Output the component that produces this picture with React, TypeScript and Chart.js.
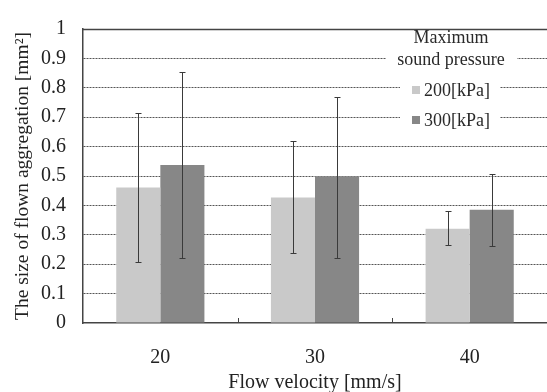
import React, { useEffect, useRef } from "react";
import { Chart, registerables } from "chart.js";

Chart.register(...registerables);

const categories = ["20", "30", "40"];
const seriesLabels = ["200[kPa]", "300[kPa]"];
const values200 = [0.461, 0.427, 0.321];
const upper200 = [0.715, 0.618, 0.382];
const lower200 = [0.206, 0.239, 0.265];
const values300 = [0.537, 0.499, 0.385];
const upper300 = [0.855, 0.77, 0.508];
const lower300 = [0.222, 0.222, 0.261];
const seriesColors = ["#c9c9c9", "#878787"];
const yTickLabels = ["0", "0.1", "0.2", "0.3", "0.4", "0.5", "0.6", "0.7", "0.8", "0.9", "1"];
const legendTitle = ["Maximum", "sound pressure"];
const xTitle = "Flow velocity [mm/s]";
const yTitle = "The size of flown aggregation [mm²]";

const FONT = "'Liberation Serif', 'Times New Roman', serif";

const errorBarPlugin = {
  id: "errorBars",
  afterDatasetsDraw(chart: any) {
    const ctx = chart.ctx;
    const yScale = chart.scales.y;
    chart.data.datasets.forEach((ds: any, i: number) => {
      const meta = chart.getDatasetMeta(i);
      meta.data.forEach((bar: any, j: number) => {
        const x = Math.round(bar.x) + 0.5;
        const yHi = Math.round(yScale.getPixelForValue(ds.errUpper[j])) + 0.5;
        const yLo = Math.round(yScale.getPixelForValue(ds.errLower[j])) + 0.5;
        ctx.save();
        ctx.strokeStyle = "#3a3a3a";
        ctx.lineWidth = 1;
        ctx.beginPath();
        ctx.moveTo(x, yHi);
        ctx.lineTo(x, yLo);
        ctx.moveTo(x - 3, yHi);
        ctx.lineTo(x + 3, yHi);
        ctx.moveTo(x - 3, yLo);
        ctx.lineTo(x + 3, yLo);
        ctx.stroke();
        ctx.restore();
      });
    });
  },
};

const framePlugin = {
  id: "frameAndLegend",
  afterDraw(chart: any) {
    const ctx = chart.ctx;
    const area = chart.chartArea;
    const xScale = chart.scales.x;
    ctx.save();
    ctx.strokeStyle = "#444";
    ctx.lineWidth = 1.5;
    ctx.beginPath();
    ctx.moveTo(area.left, area.top + 0.5);
    ctx.lineTo(area.right, area.top + 0.5);
    ctx.stroke();
    ctx.lineWidth = 1;
    const n = chart.data.labels.length;
    for (let k = 1; k < n; k++) {
      const xb = Math.round((xScale.getPixelForTick(k - 1) + xScale.getPixelForTick(k)) / 2) + 0.5;
      ctx.beginPath();
      ctx.moveTo(xb, area.bottom);
      ctx.lineTo(xb, area.bottom - 5);
      ctx.stroke();
    }
    ctx.fillStyle = "#ffffff";
    ctx.fillRect(386, 31, 131, 38);
    ctx.fillRect(400, 69, 100, 62);
    ctx.fillStyle = "#2a2a2a";
    ctx.font = `18px ${FONT}`;
    ctx.textAlign = "center";
    ctx.textBaseline = "alphabetic";
    ctx.fillText(legendTitle[0], 451, 43);
    ctx.fillText(legendTitle[1], 451, 65);
    const rows = [96, 126];
    chart.data.datasets.forEach((ds: any, i: number) => {
      ctx.fillStyle = ds.backgroundColor;
      ctx.fillRect(412, rows[i] - 10, 8, 8);
      ctx.fillStyle = "#2a2a2a";
      ctx.textAlign = "left";
      ctx.fillText(ds.label, 424, rows[i]);
    });
    ctx.restore();
  },
};

export default function App() {
  const ref = useRef<HTMLCanvasElement | null>(null);
  useEffect(() => {
    const canvas = ref.current;
    if (!canvas) return;
    const chart = new Chart(canvas, {
      type: "bar",
      data: {
        labels: categories,
        datasets: [
          {
            label: seriesLabels[0],
            data: values200,
            backgroundColor: seriesColors[0],
            errUpper: upper200,
            errLower: lower200,
          } as any,
          {
            label: seriesLabels[1],
            data: values300,
            backgroundColor: seriesColors[1],
            errUpper: upper300,
            errLower: lower300,
          } as any,
        ],
      },
      options: {
        responsive: false,
        animation: false,
        events: [],
        layout: { padding: { top: 17, right: 0, left: 0, bottom: 0 } },
        datasets: { bar: { categoryPercentage: 0.57, barPercentage: 1.0 } },
        plugins: {
          legend: { display: false },
          tooltip: { enabled: false },
        },
        scales: {
          x: {
            grid: { display: false },
            border: { display: true, color: "#444", width: 1.5 },
            ticks: {
              padding: 15,
              color: "#222",
              font: { family: FONT, size: 20 },
            },
            title: {
              display: true,
              text: xTitle,
              color: "#222",
              font: { family: FONT, size: 20, lineHeight: 0.9 },
              padding: 0,
            },
            afterFit(scale: any) {
              scale.height = 69;
            },
          },
          y: {
            min: 0,
            max: 1,
            ticks: {
              stepSize: 0.1,
              padding: 17,
              color: "#222",
              font: { family: FONT, size: 20 },
              callback: (_v: any, i: number) => yTickLabels[i],
            },
            grid: {
              drawTicks: false,
              color: (c: any) =>
                c.tick && (c.tick.value <= 0.0001 || c.tick.value >= 0.9999) ? "rgba(0,0,0,0)" : "#555",
              lineWidth: 1,
            },
            border: { display: true, color: "#444", width: 1.5, dash: [2, 1] },
            title: {
              display: true,
              text: yTitle,
              color: "#222",
              font: { family: FONT, size: 19.5 },
              padding: { top: 11, bottom: 0 },
            },
            afterFit(scale: any) {
              scale.width = 83;
            },
          },
        },
      },
      plugins: [errorBarPlugin, framePlugin],
    } as any);
    return () => chart.destroy();
  }, []);
  return (
    <div style={{ position: "absolute", left: 0, top: 0, width: 547, height: 392, background: "#fff" }}>
      <canvas ref={ref} width={547} height={392} />
    </div>
  );
}
